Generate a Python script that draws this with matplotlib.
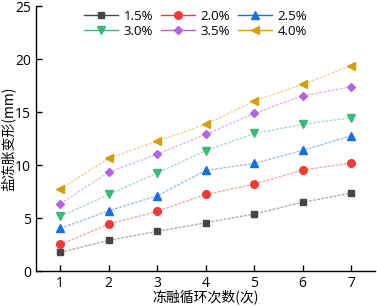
import matplotlib
matplotlib.use("Agg")
from matplotlib import pyplot as plt

plt.rcParams['font.family'] = ['Open Sans', 'Noto Sans CJK SC', 'DejaVu Sans']

cycles = [1, 2, 3, 4, 5, 6, 7]
labels = ['1.5%', '2.0%', '2.5%', '3.0%', '3.5%', '4.0%']
s15 = [1.76, 2.90, 3.75, 4.56, 5.38, 6.50, 7.36]
s20 = [2.52, 4.43, 5.63, 7.23, 8.20, 9.53, 10.20]
s25 = [4.03, 5.69, 7.10, 9.50, 10.16, 11.40, 12.76]
s30 = [5.16, 7.23, 9.25, 11.35, 12.99, 13.84, 14.46]
s35 = [6.35, 9.34, 11.04, 12.90, 14.88, 16.54, 17.39]
s40 = [7.74, 10.63, 12.26, 13.84, 16.04, 17.61, 19.37]

series = [s15, s20, s25, s30, s35, s40]
colors = ['#454545', '#f03a3a', '#1a6fe0', '#3cb878', '#b165e0', '#d49e10']
markers = ['s', 'o', '^', 'v', 'D', '<']
msizes = [4.5, 5.5, 6, 6, 4.5, 6]

fig = plt.figure(figsize=(3.77, 3.06), dpi=100)
ax = fig.add_axes([0.0955, 0.114, 0.9, 0.866])

handles = []
for ys, c, m, ms, lab in zip(series, colors, markers, msizes, labels):
    ax.plot(cycles, ys, color=c, lw=1, ls=(0, (2, 1)), alpha=0.45)
    ax.plot(cycles, ys, color=c, marker=m, ms=ms, ls='none')
    # legend proxy: solid line with solid marker
    h, = ax.plot([], [], color=c, marker=m, ms=ms, lw=1, label=lab)
    handles.append(h)

# matplotlib fills legend columns first; reorder so rows read 1.5 2.0 2.5 / 3.0 3.5 4.0
order = [0, 3, 1, 4, 2, 5]
leg = ax.legend([handles[i] for i in order], [labels[i] for i in order],
                ncol=3, loc='upper center', bbox_to_anchor=(0.47, 1.03),
                frameon=False, fontsize=9.5, handlelength=2.6,
                columnspacing=0.6, handletextpad=0.4, labelspacing=0.15)

ax.set_xlim(0.5, 7.5)
ax.set_ylim(0, 25)
ax.set_xticks(cycles)
ax.set_yticks([0, 5, 10, 15, 20, 25])
ax.tick_params(direction='in', labelsize=10, length=4, width=1)
for s in ['top', 'right']:
    ax.spines[s].set_visible(False)
for s in ['left', 'bottom']:
    ax.spines[s].set_linewidth(1)

cjk = ['Noto Sans CJK SC', 'DejaVu Sans']
ax.set_xlabel('冻融循环次数(次)', fontsize=10, family=cjk, labelpad=-1)
ax.set_ylabel('盐冻胀变形(mm)', fontsize=10, family=cjk, labelpad=0)

fig.savefig('out.png', dpi=100)
